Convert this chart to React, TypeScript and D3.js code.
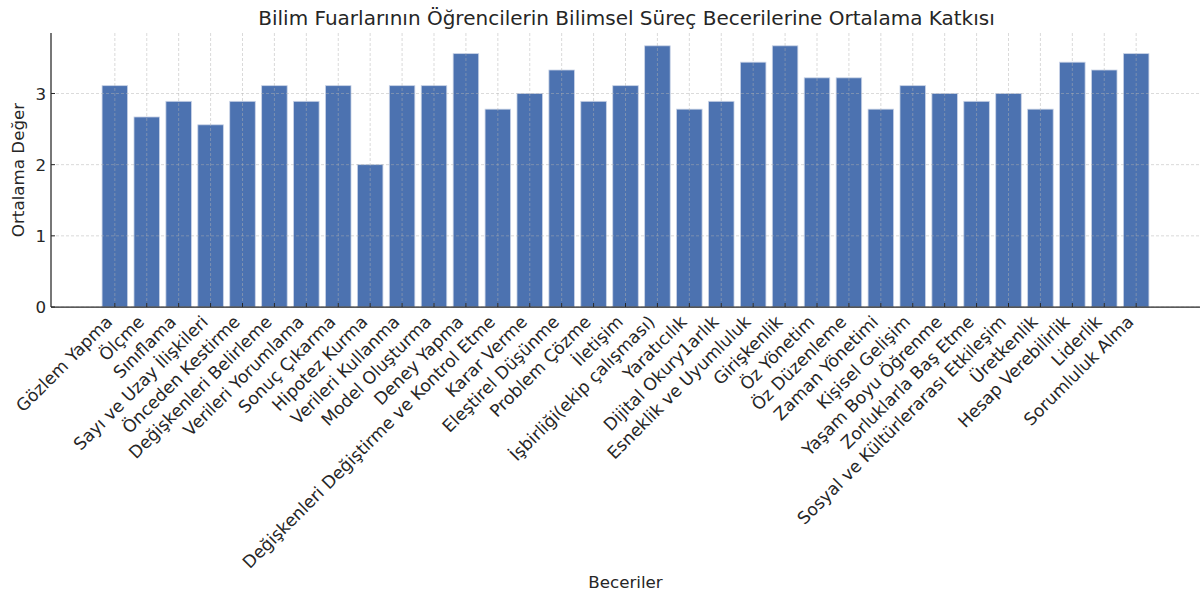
import React from "react";
import * as d3 from "d3";

const categories: string[] = [
  "Gözlem Yapma", "Ölçme", "Sınıflama", "Sayı ve Uzay İlişkileri", "Önceden Kestirme",
  "Değişkenleri Belirleme", "Verileri Yorumlama", "Sonuç Çıkarma", "Hipotez Kurma",
  "Verileri Kullanma", "Model Oluşturma", "Deney Yapma",
  "Değişkenleri Değiştirme ve Kontrol Etme", "Karar Verme", "Eleştirel Düşünme",
  "Problem Çözme", "İletişim", "İşbirliği(ekip çalışması)", "Yaratıcılık",
  "Dijital Okury1arlık", "Esneklik ve Uyumluluk", "Girişkenlik", "Öz Yönetim",
  "Öz Düzenleme", "Zaman Yönetimi", "Kişisel Gelişim", "Yaşam Boyu Öğrenme",
  "Zorluklarla Baş Etme", "Sosyal ve Kültürlerarası Etkileşim", "Üretkenlik",
  "Hesap Verebilirlik", "Liderlik", "Sorumluluk Alma",
];

const values: number[] = [
  3.11, 2.67, 2.89, 2.56, 2.89, 3.11, 2.89, 3.11, 2.0, 3.11, 3.11, 3.56,
  2.78, 3.0, 3.33, 2.89, 3.11, 3.67, 2.78, 2.89, 3.44, 3.67, 3.22, 3.22,
  2.78, 3.11, 3.0, 2.89, 3.0, 2.78, 3.44, 3.33, 3.56,
];

const yTicks: number[] = [0, 1, 2, 3];

const title = "Bilim Fuarlarının Öğrencilerin Bilimsel Süreç Becerilerine Ortalama Katkısı";
const xLabel = "Beceriler";
const yLabel = "Ortalama Değer";

export default function App() {
  const W = 1200, H = 595;
  const left = 51, right = 1200, top = 33, bottom = 307;
  const x = d3.scaleLinear().domain([-2, 34]).range([left, right]);
  const y = d3.scaleLinear().domain([0, 3.85]).range([bottom, top]);
  const bw = (x(1) - x(0)) * 0.8;
  const font = "'DejaVu Sans', sans-serif";
  const text = "#262626";
  const fs = 16.7;
  const lfs = 17.2;
  const idx = d3.range(categories.length);

  return (
    <svg width={W} height={H} style={{ position: "absolute", left: 0, top: 0 }} fontFamily={font}>
      <rect width={W} height={H} fill="#fff" />
      {idx.map((i) => (
        <rect
          key={"b" + i}
          x={x(i) - bw / 2}
          y={y(values[i])}
          width={bw}
          height={y(0) - y(values[i])}
          fill="#4c72b0"
          stroke="#c9d3e6"
          strokeWidth={0.8}
        />
      ))}
      {/* grid */}
      {idx.map((i) => (
        <line key={"gx" + i} x1={x(i)} x2={x(i)} y1={top} y2={bottom}
          stroke="#b0b0b0" strokeOpacity={0.6} strokeDasharray="3,2" strokeWidth={0.8} />
      ))}
      {yTicks.map((t) => (
        <line key={"gy" + t} x1={left} x2={right} y1={y(t)} y2={y(t)}
          stroke="#b0b0b0" strokeOpacity={0.6} strokeDasharray="3,2" strokeWidth={0.8} />
      ))}
      {/* spines */}
      <line x1={left} x2={left} y1={top} y2={bottom} stroke="#262626" strokeWidth={1.25} />
      <line x1={left} x2={right} y1={bottom} y2={bottom} stroke="#262626" strokeWidth={1.25} />
      {/* ticks */}
      {idx.map((i) => (
        <line key={"tx" + i} x1={x(i)} x2={x(i)} y1={bottom} y2={bottom - 4}
          stroke="#262626" strokeWidth={1} />
      ))}
      {yTicks.map((t) => (
        <g key={"ty" + t}>
          <line x1={left} x2={left + 4} y1={y(t)} y2={y(t)} stroke="#262626" strokeWidth={1} />
          <text x={left - 5} y={y(t)} dy="0.36em" textAnchor="end" fontSize={fs} fill={text}>{t}</text>
        </g>
      ))}
      {idx.map((i) => (
        <text key={"lx" + i}
          transform={`translate(${x(i) - 1.5},${bottom + 16}) rotate(-45)`}
          textAnchor="end" fontSize={lfs} fill={text}>{categories[i]}</text>
      ))}
      <text x={(left + right) / 2 + 1} y={25} textAnchor="middle" fontSize={20} fill={text}>{title}</text>
      <text x={(left + right) / 2} y={588} textAnchor="middle" fontSize={fs} fill={text}>{xLabel}</text>
      <text transform={`translate(24,${(top + bottom) / 2}) rotate(-90)`} textAnchor="middle"
        fontSize={fs} fill={text}>{yLabel}</text>
    </svg>
  );
}
